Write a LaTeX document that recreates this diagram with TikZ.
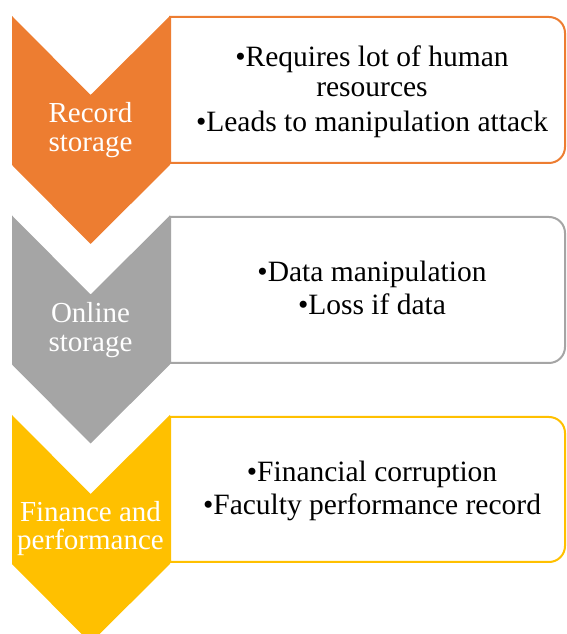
\documentclass[tikz,border=0pt]{standalone}
\usepackage{fontspec}
\setmainfont{Liberation Serif}
\definecolor{stOrange}{RGB}{237,125,49}
\definecolor{stGray}{RGB}{165,165,165}
\definecolor{stGold}{RGB}{255,192,0}
\tikzset{
  chevron/.style={fill=#1, draw=none},
  infobox/.style={draw=#1, line width=2pt, fill=white, line join=miter},
  chevlabel/.style={anchor=base, text=white, inner sep=0pt, font=\fontsize{29}{32}\selectfont},
  boxline/.style={anchor=base, text=black, inner sep=0pt, font=\fontsize{29.5}{32}\selectfont},
}
\begin{document}
\begin{tikzpicture}[x=1pt, y=1pt]
  \useasboundingbox (0,0) rectangle (567,634);
  \clip (0,0) rectangle (567,634);

  % ---- stage 1: record storage ----
  \fill[chevron=stOrange] (12,618) -- (90.5,539) -- (170,618) -- (170,469)
        -- (90.5,390) -- (12,469) -- cycle;
  \draw[infobox=stOrange] (170,617) -- (549,617) arc[start angle=90, end angle=0, radius=16pt]
        -- (565,487) arc[start angle=0, end angle=-90, radius=16pt] -- (170,471) -- cycle;
  \node[chevlabel] (c1a) at (90.5,511) {Record};
  \node[chevlabel] (c1b) at (90.5,482) {storage};
  \node[boxline] (b1a) at (372,567) {•Requires lot of human};
  \node[boxline] (b1b) at (372,537) {resources};
  \node[boxline] (b1c) at (372,502) {•Leads to manipulation attack};

  % ---- stage 2: online storage ----
  \fill[chevron=stGray] (12,418.5) -- (90.5,339.5) -- (170,418.5) -- (170,269.5)
        -- (90.5,190.5) -- (12,269.5) -- cycle;
  \draw[infobox=stGray] (170,417) -- (549,417) arc[start angle=90, end angle=0, radius=16pt]
        -- (565,287) arc[start angle=0, end angle=-90, radius=16pt] -- (170,271) -- cycle;
  \node[chevlabel] (c2a) at (90.5,311) {Online};
  \node[chevlabel] (c2b) at (90.5,282) {storage};
  \node[boxline] (b2a) at (372,352) {•Data manipulation};
  \node[boxline] (b2b) at (372,319) {•Loss if data};

  % ---- stage 3: finance and performance ----
  \fill[chevron=stGold] (12,219) -- (90.5,140) -- (170,219) -- (170,70)
        -- (90.5,-9) -- (12,70) -- cycle;
  \draw[infobox=stGold] (170,217) -- (549,217) arc[start angle=90, end angle=0, radius=16pt]
        -- (565,88) arc[start angle=0, end angle=-90, radius=16pt] -- (170,72) -- cycle;
  \node[chevlabel] (c3a) at (90.5,112) {Finance and};
  \node[chevlabel] (c3b) at (90.5,84) {performance};
  \node[boxline] (b3a) at (372,152) {•Financial corruption};
  \node[boxline] (b3b) at (372,119) {•Faculty performance record};
\end{tikzpicture}
\end{document}
